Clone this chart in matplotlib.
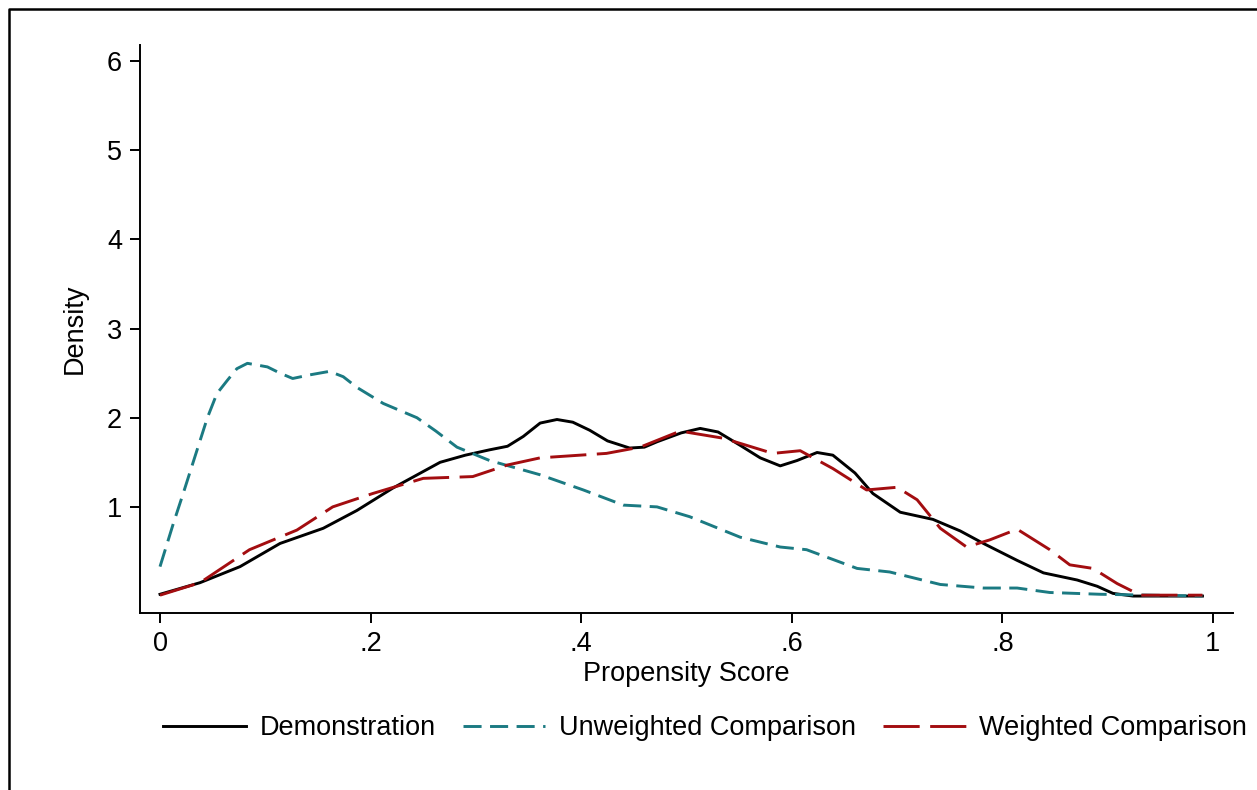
import matplotlib
matplotlib.use("Agg")
import matplotlib.pyplot as plt
from matplotlib.lines import Line2D

plt.rcParams['font.family'] = ['Liberation Sans', 'DejaVu Sans']

# Demonstration
demo_x = [0.0, 0.038, 0.076, 0.114, 0.155, 0.187, 0.221, 0.266, 0.290, 0.313, 0.330, 0.345, 0.361, 0.377, 0.392,
          0.408, 0.425, 0.446, 0.460, 0.472, 0.495, 0.513, 0.530, 0.551, 0.570, 0.589, 0.605, 0.624, 0.639, 0.660,
          0.677, 0.703, 0.734, 0.760, 0.782, 0.814, 0.839, 0.871, 0.890, 0.905, 0.924, 0.99]
demo_y = [0.02, 0.15, 0.33, 0.59, 0.76, 0.96, 1.21, 1.50, 1.58, 1.64, 1.68, 1.79, 1.94, 1.98, 1.95,
          1.86, 1.74, 1.66, 1.67, 1.73, 1.83, 1.88, 1.84, 1.69, 1.55, 1.46, 1.52, 1.61, 1.58, 1.38,
          1.15, 0.94, 0.86, 0.73, 0.59, 0.40, 0.26, 0.18, 0.11, 0.03, 0.0, 0.0]

# Unweighted comparison
unw_x = [0.0, 0.0127, 0.022, 0.032, 0.045, 0.054, 0.064, 0.073, 0.083, 0.102, 0.114, 0.126, 0.142,
         0.161, 0.174, 0.187, 0.212, 0.244, 0.262, 0.282, 0.313, 0.361, 0.402, 0.440, 0.472, 0.503,
         0.551, 0.589, 0.614, 0.662, 0.693, 0.741, 0.782, 0.814, 0.845, 0.893, 0.99]
unw_y = [0.33, 0.815, 1.15, 1.52, 2.0, 2.27, 2.42, 2.55, 2.61, 2.57, 2.50, 2.44, 2.48,
         2.52, 2.46, 2.34, 2.16, 2.0, 1.85, 1.67, 1.52, 1.36, 1.19, 1.02, 1.00, 0.89,
         0.66, 0.55, 0.52, 0.31, 0.27, 0.13, 0.09, 0.09, 0.04, 0.02, 0.0]

# Weighted comparison
wt_x = [0.0, 0.038, 0.085, 0.130, 0.164, 0.202, 0.250, 0.297, 0.330, 0.361, 0.424, 0.456, 0.494,
        0.535, 0.582, 0.608, 0.639, 0.671, 0.700, 0.719, 0.741, 0.766, 0.788, 0.814, 0.845,
        0.864, 0.886, 0.909, 0.931, 0.99]
wt_y = [0.01, 0.15, 0.52, 0.74, 1.0, 1.15, 1.32, 1.34, 1.47, 1.55, 1.60, 1.67, 1.85,
        1.77, 1.60, 1.63, 1.43, 1.19, 1.22, 1.08, 0.76, 0.55, 0.63, 0.75, 0.52,
        0.35, 0.31, 0.14, 0.01, 0.01]

x_ticks = [0, 0.2, 0.4, 0.6, 0.8, 1.0]
x_tick_labels = ["0", ".2", ".4", ".6", ".8", "1"]
y_ticks = [1, 2, 3, 4, 5, 6]
y_tick_labels = ["1", "2", "3", "4", "5", "6"]

fig = plt.figure(figsize=(12.57, 7.9), dpi=100)
ax = fig.add_axes([140/1257, 1 - 613/790, (1233-140)/1257, (613-45)/790])

ax.plot(demo_x, demo_y, color='black', lw=2.1, label='Demonstration', solid_joinstyle='round')
ax.plot(unw_x, unw_y, color='#1b7a82', lw=2.1, linestyle=(0, (6.2, 2.9)), label='Unweighted Comparison')
ax.plot(wt_x, wt_y, color='#a30d10', lw=2.1, linestyle=(0, (12.4, 3.6)), label='Weighted Comparison')

ax.set_xlim(-0.019, 1.019)
ax.set_ylim(-0.19, 6.18)
ax.set_xticks(x_ticks)
ax.set_xticklabels(x_tick_labels)
ax.set_yticks(y_ticks)
ax.set_yticklabels(y_tick_labels)
ax.spines['top'].set_visible(False)
ax.spines['right'].set_visible(False)
for s in ['left', 'bottom']:
    ax.spines[s].set_linewidth(1.4)
ax.tick_params(axis='both', direction='out', length=7, width=1.4, labelsize=19.5, pad=6)
ax.set_xlabel('Propensity Score', fontsize=19.5, labelpad=3)
ax.set_ylabel('Density', fontsize=19.5, labelpad=14)

fig.legend(loc='center', bbox_to_anchor=(0.561, 0.078), ncol=3, frameon=False,
           fontsize=19.5, handlelength=3.05, columnspacing=1.0, handletextpad=0.5)

# outer border (left and top visible)
bx = 8.5/1257
by = 1 - 8.5/790
fig.add_artist(Line2D([bx, bx, 1.0], [0.0, by, by], transform=fig.transFigure,
                      color='black', lw=1.8))

fig.savefig('out.png', dpi=100)
